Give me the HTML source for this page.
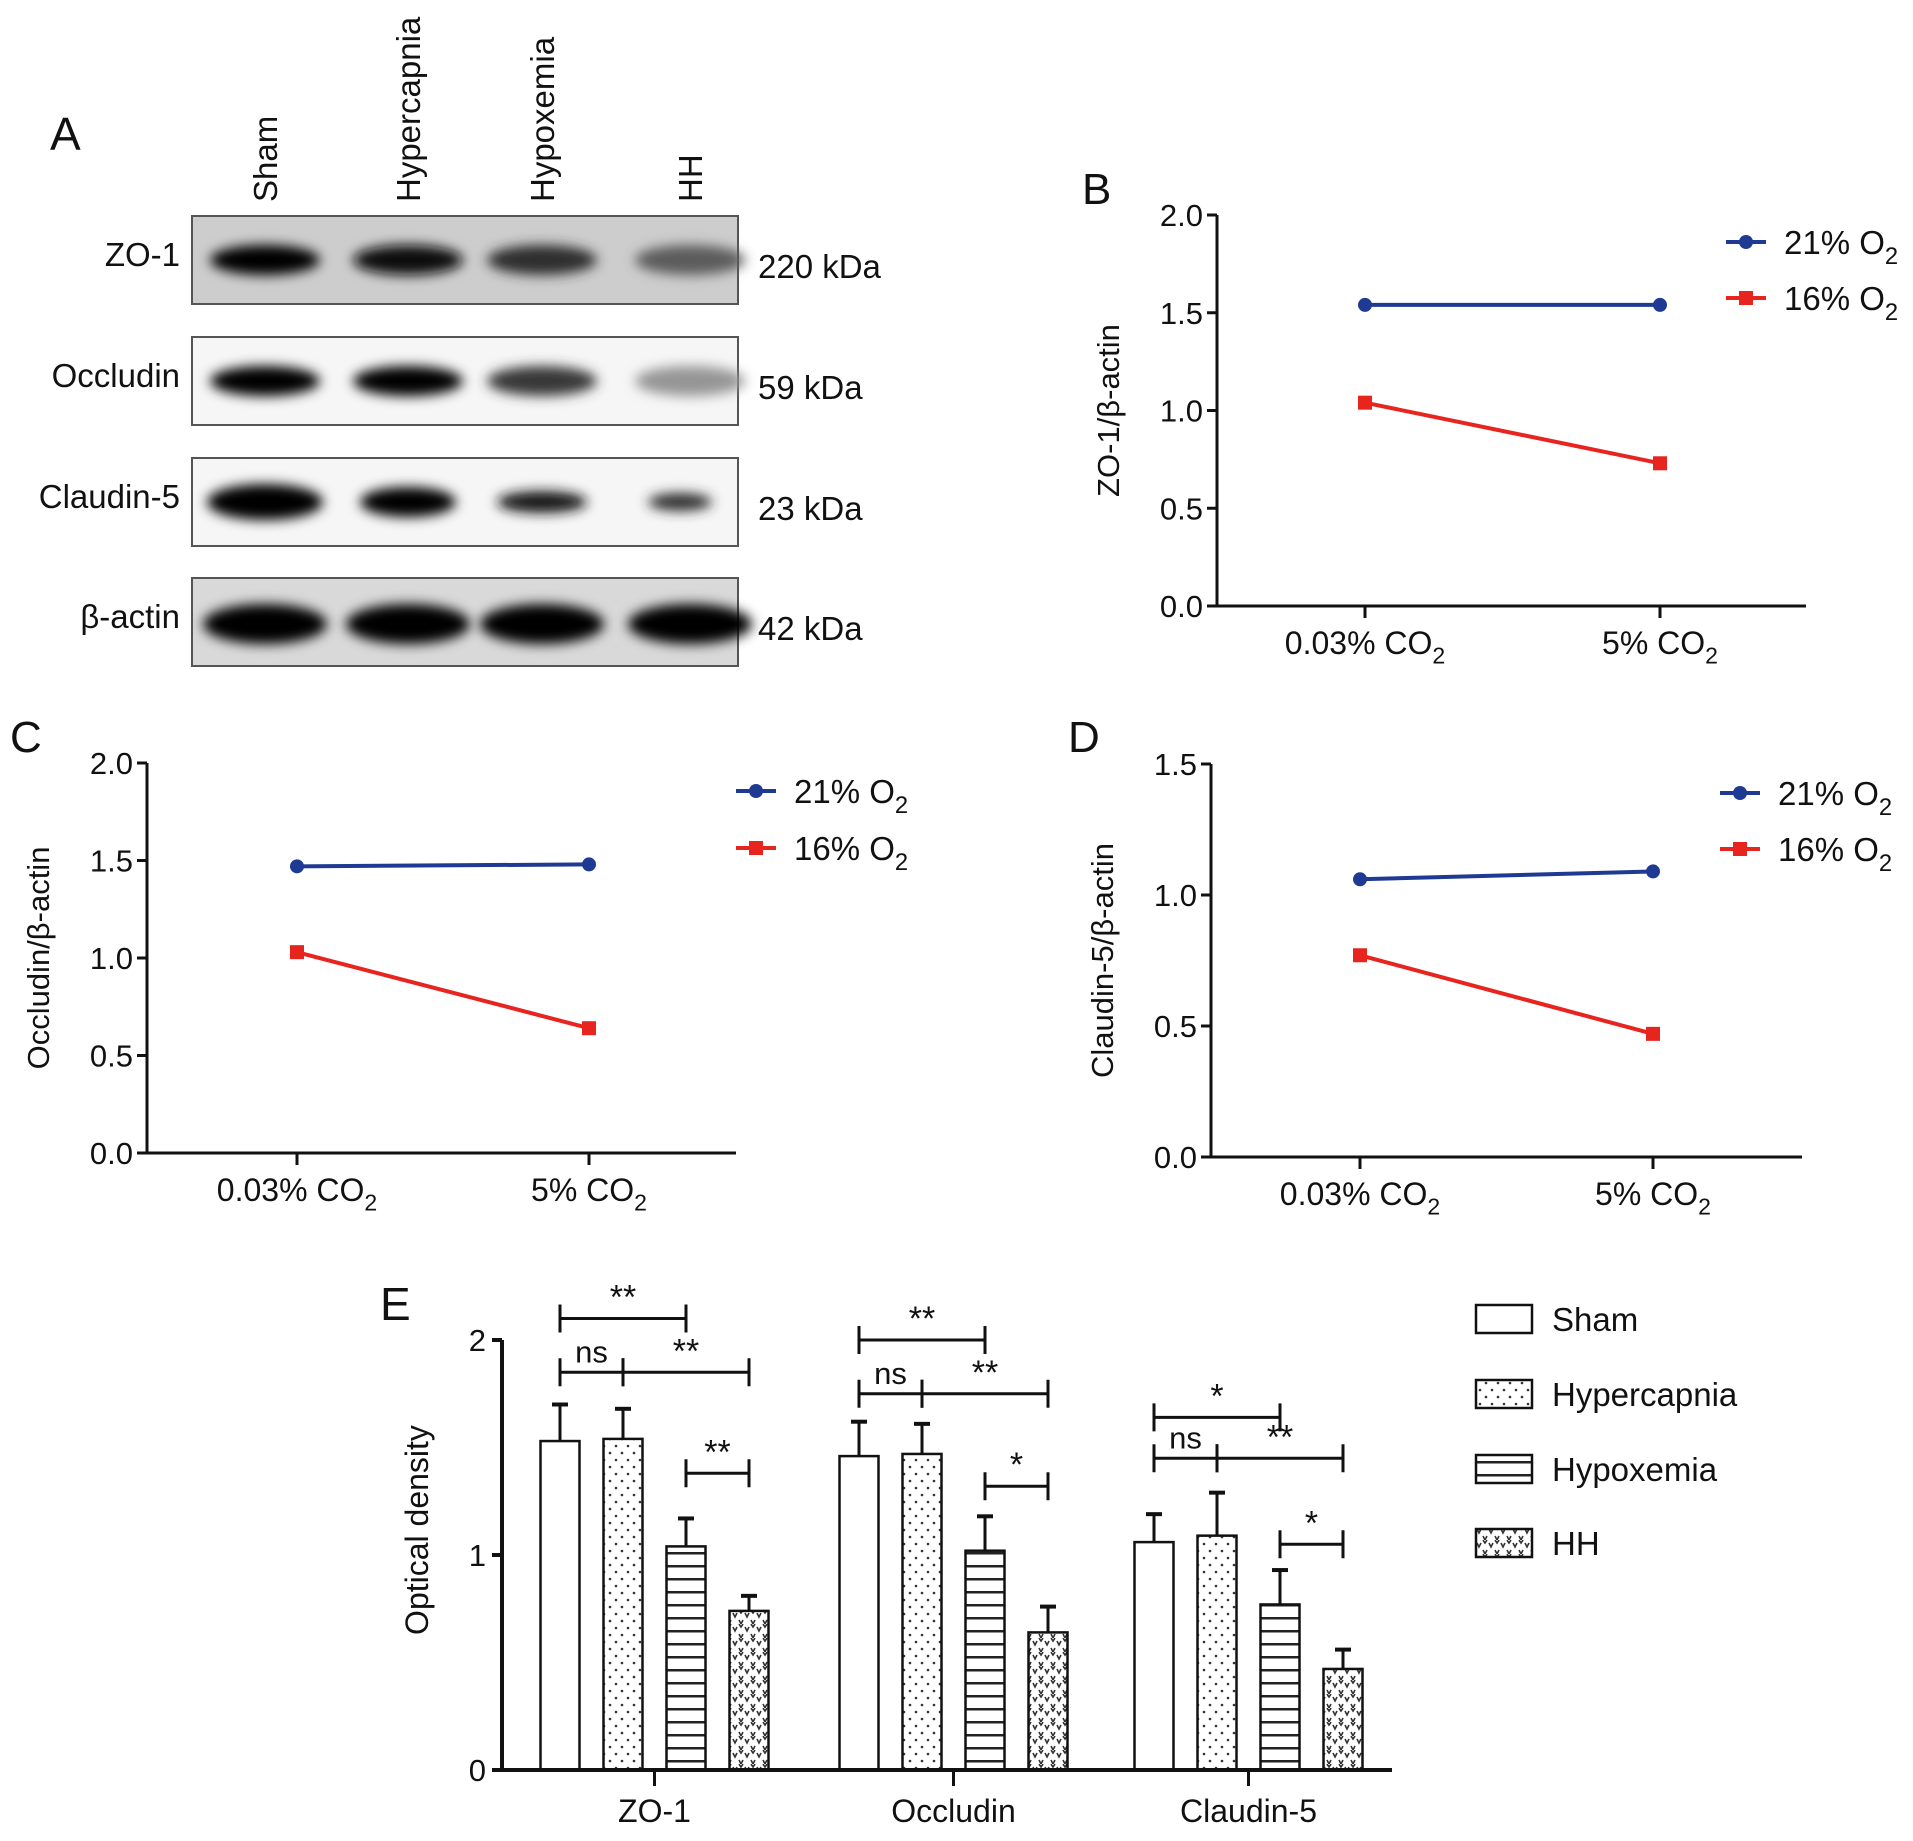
<!DOCTYPE html>
<html><head><meta charset="utf-8"><style>
html,body{margin:0;padding:0;background:#fff;}
svg text{font-family:"Liberation Sans",Arial,sans-serif;fill:#111;}
</style></head><body>
<svg id="fig" width="1913" height="1836" viewBox="0 0 1913 1836" xmlns="http://www.w3.org/2000/svg">
<defs>
<filter id="blur" x="-30%" y="-80%" width="160%" height="260%"><feGaussianBlur stdDeviation="6"/></filter>
<pattern id="pDots" width="12" height="14" patternUnits="userSpaceOnUse"><rect width="12" height="14" fill="#fff"/><circle cx="4" cy="4" r="1.3" fill="#333"/><circle cx="10" cy="11" r="1.3" fill="#333"/></pattern>
<pattern id="pLines" width="10" height="13" patternUnits="userSpaceOnUse"><rect width="10" height="13" fill="#fff"/><rect y="5" width="10" height="2.5" fill="#222"/></pattern>
<pattern id="pV" width="12" height="14" patternUnits="userSpaceOnUse"><rect width="12" height="14" fill="#fff"/><path d="M1 3 L3 7 L5 3 M7 10 L9 14 L11 10 M7 0 L9 3 L11 0" stroke="#333" stroke-width="1.6" fill="none"/></pattern>
</defs>
<g id="panelA"></g>
<g id="panelB"></g>
<g id="panelC"></g>
<g id="panelD"></g>
<g id="panelE"></g>
</svg>
<script>
const NS="http://www.w3.org/2000/svg";
// ---- data ----
const lineCategories=["0.03% CO2","5% CO2"];
const zo1Normoxia=[1.54,1.54];
const zo1Hypoxia=[1.04,0.73];
const occNormoxia=[1.47,1.48];
const occHypoxia=[1.03,0.64];
const claNormoxia=[1.06,1.09];
const claHypoxia=[0.77,0.47];
const ticks2=[0.0,0.5,1.0,1.5,2.0];
const ticks15=[0.0,0.5,1.0,1.5];
const barGroups=["ZO-1","Occludin","Claudin-5"];
const barSeries=["Sham","Hypercapnia","Hypoxemia","HH"];
const barMeans=[[1.53,1.54,1.04,0.74],[1.46,1.47,1.02,0.64],[1.06,1.09,0.77,0.47]];
const barErrors=[[0.17,0.14,0.13,0.07],[0.16,0.14,0.16,0.12],[0.13,0.20,0.16,0.09]];
const barTicks=[0,1,2];
const blotProteins=["ZO-1","Occludin","Claudin-5","β-actin"];
const blotSizes=["220 kDa","59 kDa","23 kDa","42 kDa"];
const blotLanes=["Sham","Hypercapnia","Hypoxemia","HH"];
const blotIntensity=[[0.98,0.95,0.8,0.6],[1,1,0.75,0.35],[1,1,0.9,0.8],[1,1,1,1]];

function el(parent,tag,attrs,text){const e=document.createElementNS(NS,tag);for(const k in attrs)e.setAttribute(k,attrs[k]);if(text!==undefined)e.textContent=text;parent.appendChild(e);return e;}
function sub(parent,x,y,main,subs,size,anchor,name){
  const t=el(parent,"text",{x:x,y:y,"font-size":size,"text-anchor":anchor||"start"});
  
  
  const a=document.createElementNS(NS,"tspan");a.textContent=main;t.appendChild(a);
  const b=document.createElementNS(NS,"tspan");b.setAttribute("dy",size*0.3);b.setAttribute("font-size",size*0.72);b.textContent=subs;t.appendChild(b);
  return t;
}

// ---- Panel A ----
(function(){
  const g=document.getElementById("panelA");
  const L=el(g,"text",{x:50,y:150,"font-size":46},"A");
  
  
  const laneX=[265,408,542,690];
  blotLanes.forEach((n,i)=>{
    const t=el(g,"text",{x:0,y:0,"font-size":33,transform:`translate(${laneX[i]+12},202) rotate(-90)`},n);
    
    
  });
  const rowY=[216,337,458,578];
  const sizes=[[55,14],[55,16],[[52,50,48,38]],[62,20]];
  blotProteins.forEach((p,r)=>{
    const y=rowY[r];
    const bx=el(g,"rect",{x:192,y:y,width:546,height:88,fill:r==0?"#cdcdcd":(r==3?"#d9d9d9":"#f6f6f6"),stroke:"#555","stroke-width":2});
    
    
    blotIntensity[r].forEach((v,i)=>{
      const c=Math.round(255*(1-v)*0.9);
      const rx=r==2?[58,48,45,32][i]:(r==3?62:55);
      const e=el(g,"ellipse",{cx:laneX[i]-(r==2&&i==3?10:0),cy:y+(r==3?46:44),rx:rx,ry:r==3?20:(r==2?[18,15,11,9][i]:15),fill:`rgb(${c},${c},${c})`,filter:"url(#blur)"});
      
      
    });
    const l=el(g,"text",{x:180,y:y+50,"font-size":33,"text-anchor":"end"},p);
    
    
    const s=el(g,"text",{x:758,y:y+62,"font-size":33},blotSizes[r]);
    
    
  });
})();

// ---- line charts ----
function lineChart(gid,letter,lx,ly,ax,top,bot,xend,tx,ymax,ticks,ylab,normo,hypo,legX,legY){
  const g=document.getElementById(gid);
  const L=el(g,"text",{x:lx,y:ly,"font-size":44},letter);
  
  
  const ys=v=>bot-(v/ymax)*(bot-top);
  const xs=i=>tx[0]+i*(tx[1]-tx[0]);
  el(g,"line",{x1:ax,y1:top,x2:ax,y2:bot,stroke:"#111","stroke-width":3});
  el(g,"line",{x1:ax-10,y1:bot,x2:xend,y2:bot,stroke:"#111","stroke-width":3});
  ticks.forEach(t=>{
    el(g,"line",{x1:ax-10,y1:ys(t),x2:ax,y2:ys(t),stroke:"#111","stroke-width":3});
    const tl=el(g,"text",{x:ax-14,y:ys(t)+11,"font-size":31,"text-anchor":"end"},t.toFixed(1));
    
    
  });
  lineCategories.forEach((c,i)=>{
    el(g,"line",{x1:xs(i),y1:bot,x2:xs(i),y2:bot+12,stroke:"#111","stroke-width":3});
    sub(g,xs(i),bot+48,c.replace("2",""),"2",32,"middle","x-tick-label");
  });
  const yl=el(g,"text",{x:0,y:0,"font-size":31,"text-anchor":"middle",transform:`translate(${ax-98},${(top+bot)/2}) rotate(-90)`},ylab);
  
  
  const series=[[normo,"#1f3a93","circle"],[hypo,"#e8241f","square"]];
  series.forEach(([d,col,shape],s)=>{
    const ln=el(g,"line",{x1:xs(0),y1:ys(d[0]),x2:xs(1),y2:ys(d[1]),stroke:col,"stroke-width":4});
    
    
    d.forEach((v,i)=>{
      let m;
      if(shape=="circle")m=el(g,"circle",{cx:xs(i),cy:ys(v),r:7,fill:col});
      else m=el(g,"rect",{x:xs(i)-7,y:ys(v)-7,width:14,height:14,fill:col});
      
      
    });
    const ly2=legY[s];
    el(g,"line",{x1:legX,y1:ly2,x2:legX+40,y2:ly2,stroke:col,"stroke-width":4});
    if(shape=="circle")el(g,"circle",{cx:legX+20,cy:ly2,r:7,fill:col});
    else el(g,"rect",{x:legX+13,y:ly2-7,width:14,height:14,fill:col});
    sub(g,legX+58,ly2+12,s?"16% O":"21% O","2",33,"start","legend-entry");
  });
}
lineChart("panelB","B",1082,204,1217,215,606,1806,[1365,1660],2,ticks2,"ZO-1/β-actin",zo1Normoxia,zo1Hypoxia,1726,[242,298]);
lineChart("panelC","C",10,752,147,763,1153,736,[297,589],2,ticks2,"Occludin/β-actin",occNormoxia,occHypoxia,736,[791,848]);
lineChart("panelD","D",1068,752,1211,764,1157,1802,[1360,1653],1.5,ticks15,"Claudin-5/β-actin",claNormoxia,claHypoxia,1720,[793,849]);

// ---- Panel E ----
(function(){
  const g=document.getElementById("panelE");
  const L=el(g,"text",{x:380,y:1320,"font-size":46},"E");
  
  
  const ax=502,bot=1770,top=1340,ymax=2,xend=1392;
  const ys=v=>bot-(v/ymax)*(bot-top);
  const groupStart=[560,859,1154],step=63,bw=39;
  const fills=["#fff","url(#pDots)","url(#pLines)","url(#pV)"];
  barGroups.forEach((gname,gi)=>{
    barSeries.forEach((s,si)=>{
      const cx=groupStart[gi]+si*step, v=barMeans[gi][si], e=barErrors[gi][si];
      el(g,"line",{x1:cx,y1:ys(v),x2:cx,y2:ys(v+e),stroke:"#111","stroke-width":3});
      el(g,"line",{x1:cx-8,y1:ys(v+e),x2:cx+8,y2:ys(v+e),stroke:"#111","stroke-width":4});
      const b=el(g,"rect",{x:cx-bw/2,y:ys(v),width:bw,height:bot-ys(v),fill:fills[si],stroke:"#111","stroke-width":2.5});
      
      
    });
    const gc=groupStart[gi]+1.5*step;
    el(g,"line",{x1:gc,y1:bot,x2:gc,y2:bot+16,stroke:"#111","stroke-width":3});
    const t=el(g,"text",{x:gc,y:bot+52,"font-size":32,"text-anchor":"middle"},gname);
    
    
    const x0=groupStart[gi];
    const brk=[[0,2,[2.1,2.0,1.64][gi],gi==2?"*":"**"],
               [0,1,[1.85,1.75,1.45][gi],"ns"],
               [1,3,[1.85,1.75,1.45][gi],"**"],
               [2,3,[1.38,1.32,1.05][gi],gi==0?"**":"*"]];
    brk.forEach(([a,b2,lev,lab])=>{
      const y=ys(lev),xa=x0+a*step,xb=x0+b2*step;
      el(g,"path",{d:`M${xa} ${y-14} L${xa} ${y+14} M${xa} ${y} L${xb} ${y} M${xb} ${y-14} L${xb} ${y+14}`,stroke:"#111","stroke-width":3,fill:"none"});
      const st=el(g,"text",{x:(xa+xb)/2,y:y-10,"font-size":lab=="ns"?31:34,"text-anchor":"middle"},lab);
      
      
    });
  });
  el(g,"line",{x1:ax,y1:top,x2:ax,y2:bot,stroke:"#111","stroke-width":4});
  el(g,"line",{x1:ax-10,y1:bot,x2:xend,y2:bot,stroke:"#111","stroke-width":4});
  barTicks.forEach(t=>{
    el(g,"line",{x1:ax-10,y1:ys(t),x2:ax,y2:ys(t),stroke:"#111","stroke-width":4});
    const tl=el(g,"text",{x:ax-16,y:ys(t)+11,"font-size":31,"text-anchor":"end"},String(t));
    
    
  });
  const yl=el(g,"text",{x:0,y:0,"font-size":32,"text-anchor":"middle",transform:`translate(428,1530) rotate(-90)`},"Optical density");
  
  
  const legY=[1319,1394,1469,1543];
  barSeries.forEach((s,si)=>{
    const r=el(g,"rect",{x:1476,y:legY[si]-14,width:56,height:28,fill:fills[si],stroke:"#111","stroke-width":2.5});
    
    
    const t=el(g,"text",{x:1552,y:legY[si]+12,"font-size":33},s);
    
    
  });
})();
</script>
</body></html>
